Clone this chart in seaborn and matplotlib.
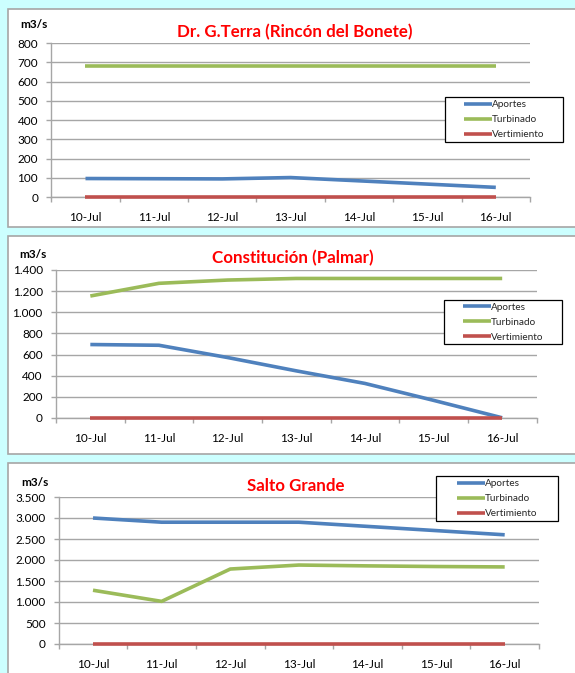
import matplotlib
matplotlib.use('Agg')
import matplotlib.pyplot as plt
from matplotlib.lines import Line2D
from matplotlib.patches import Rectangle
from matplotlib.ticker import FuncFormatter, MultipleLocator
import seaborn as sns
import pandas as pd
import numpy as np

fechas = ['10-Jul', '11-Jul', '12-Jul', '13-Jul', '14-Jul', '15-Jul', '16-Jul']
series = ['Aportes', 'Turbinado', 'Vertimiento']
colores = ['#4F81BD', '#9BBB59', '#C0504D']

titulos = ['Dr. G.Terra (Rincón del Bonete)', 'Constitución (Palmar)', 'Salto Grande']
unidad = 'm3/s'

terra_aportes = [96, 95, 94, 101, 84, 67, 50]
terra_turbinado = [683, 683, 683, 683, 683, 683, 683]
terra_vertimiento = [0, 0, 0, 0, 0, 0, 0]

palmar_aportes = [695, 688, 572, 446, 327, 167, 2]
palmar_turbinado = [1154, 1274, 1305, 1320, 1320, 1320, 1320]
palmar_vertimiento = [0, 0, 0, 0, 0, 0, 0]

salto_aportes = [3000, 2900, 2900, 2900, 2800, 2700, 2600]
salto_turbinado = [1280, 1015, 1785, 1880, 1860, 1845, 1835]
salto_vertimiento = [0, 0, 0, 0, 0, 0, 0]

y_max = [800, 1400, 3500]
y_step = [100, 200, 500]

W, H = 575, 673
sns.set_style('white')
plt.rcParams['font.family'] = ['Lato', 'DejaVu Sans']

fig = plt.figure(figsize=(W / 100, H / 100), dpi=100)
fig.patch.set_facecolor('#CCFFFF')

def fx(px):
    return px / W

def fy(py):
    return 1 - py / H

# panel boxes (left, top, right, bottom) in px
paneles = [(8, 9, 580, 227), (8, 236, 580, 454), (8, 463, 580, 680)]
for (l, t, r, b) in paneles:
    fig.patches.append(Rectangle((fx(l), fy(b)), fx(r - l), (b - t) / H,
                                 transform=fig.transFigure, facecolor='white',
                                 edgecolor='#A6A6A6', lw=1.2, zorder=-5))

# axes (left, top, right, bottom) px
ejes = [(51.3, 43, 530, 197), (56, 270, 536.5, 418), (58.7, 497, 539, 644)]
titulo_pos = [(295, 32), (293, 258), (296, 486)]
unidad_pos = [(33.5, 25), (33, 254), (35, 482)]
leyenda_box = [(445, 97, 563, 142), (444, 300, 562, 344), (436, 476, 558, 521)]

datos = [
    (terra_aportes, terra_turbinado, terra_vertimiento),
    (palmar_aportes, palmar_turbinado, palmar_vertimiento),
    (salto_aportes, salto_turbinado, salto_vertimiento),
]

fmt = FuncFormatter(lambda v, p: f"{int(round(v)):,}".replace(',', '.'))
gris = '#A6A6A6'

for i in range(3):
    l, t, r, b = ejes[i]
    ax = fig.add_axes([fx(l), fy(b), fx(r - l), (b - t) / H])
    ax.set_zorder(1)
    ax.set_facecolor('white')
    filas = []
    for s, vals in zip(series, datos[i]):
        for f, v in zip(fechas, vals):
            filas.append({'Fecha': f, 'Caudal': v, 'Serie': s})
    df = pd.DataFrame(filas)
    sns.lineplot(data=df, x='Fecha', y='Caudal', hue='Serie', hue_order=series,
                 palette=colores, lw=2.6, ax=ax, legend=False, errorbar=None, sort=False)
    for ln in ax.lines:
        ln.set_clip_on(False)
        ln.set_zorder(3)
        ln.set_solid_capstyle('butt')
    ax.set_xlim(-0.5, 6.5)
    ax.set_ylim(0, y_max[i])
    ax.yaxis.set_major_locator(MultipleLocator(y_step[i]))
    ax.yaxis.set_major_formatter(fmt)
    ax.set_xticks(range(7))
    ax.set_xticklabels(fechas)
    ax.set_xticks(np.arange(-0.5, 7, 1), minor=True)
    ax.tick_params(axis='x', which='major', length=0, pad=10.5, labelsize=8.5, labelcolor='black')
    ax.tick_params(axis='x', which='minor', length=3.5, width=1, color=gris, direction='out', bottom=True)
    ax.tick_params(axis='y', which='major', length=3.5, width=1, color=gris, direction='out',
                   left=True, pad=6, labelsize=8.5, labelcolor='black')
    ax.yaxis.grid(True, color=gris, lw=1)
    ax.xaxis.grid(False)
    ax.set_axisbelow(True)
    for sp in ['top', 'right']:
        ax.spines[sp].set_visible(False)
    for sp in ['left', 'bottom']:
        ax.spines[sp].set_color(gris)
        ax.spines[sp].set_linewidth(1)
    ax.set_xlabel('')
    ax.set_ylabel('')

    tx, ty = titulo_pos[i]
    fig.text(fx(tx), fy(ty), titulos[i], color='#FF0000', fontsize=12.2,
             fontweight='bold', ha='center', va='center', zorder=4)
    ux, uy = unidad_pos[i]
    fig.text(fx(ux), fy(uy), unidad, fontsize=8.5, fontweight='bold',
             ha='center', va='center', color='black', zorder=4)

    lb = leyenda_box[i]
    fig.patches.append(Rectangle((fx(lb[0]), fy(lb[3])), fx(lb[2] - lb[0]), (lb[3] - lb[1]) / H,
                                 transform=fig.transFigure, facecolor='white',
                                 edgecolor='black', lw=0.9, zorder=5))
    handles = [Line2D([0], [0], color=c, lw=2.6, solid_capstyle='butt') for c in colores]
    leg = fig.legend(handles, series, loc='center',
                     bbox_to_anchor=(fx((lb[0] + lb[2]) / 2), fy((lb[1] + lb[3]) / 2)),
                     bbox_transform=fig.transFigure, frameon=False, fontsize=7.2,
                     handlelength=2.8, handletextpad=0.05, labelspacing=0.6,
                     borderpad=0, borderaxespad=0)
    leg.set_zorder(6)

fig.savefig('out.png', dpi=100, facecolor=fig.get_facecolor())
